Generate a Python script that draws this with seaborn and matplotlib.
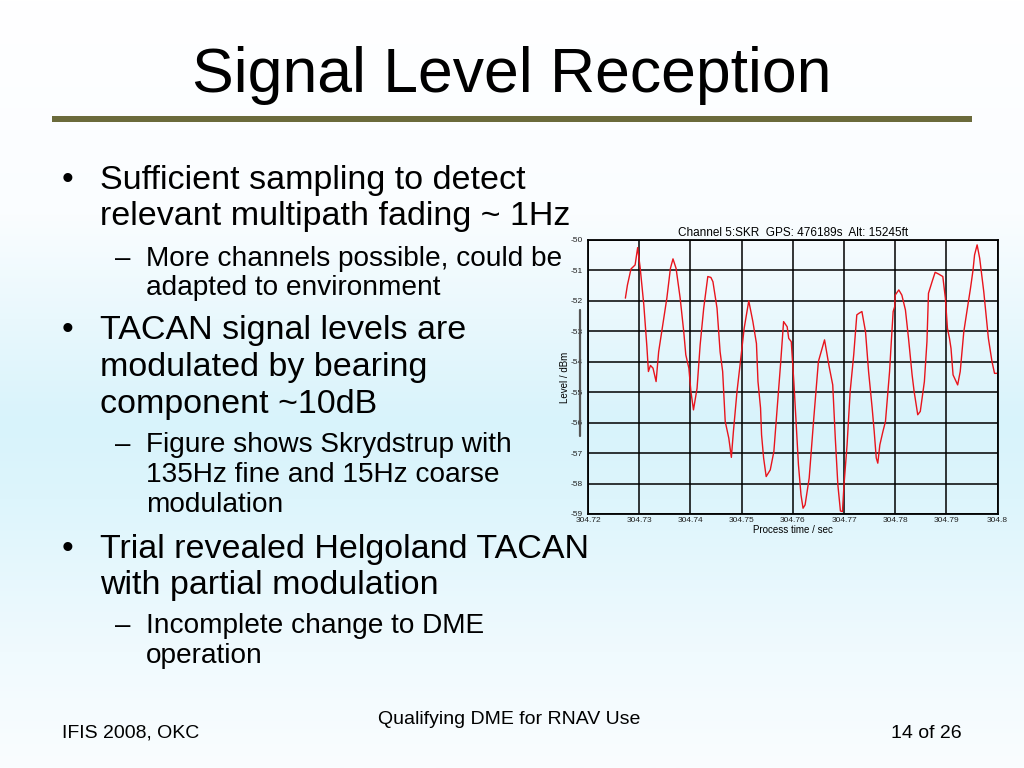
import numpy as np
import matplotlib
matplotlib.use("Agg")
import matplotlib.pyplot as plt
from matplotlib.lines import Line2D
from matplotlib.patches import Rectangle
import seaborn as sns

sns.set_style("white")
plt.rcParams['font.family'] = ['Liberation Sans', 'DejaVu Sans']
plt.rcParams['text.color'] = 'black'
plt.rcParams['axes.labelcolor'] = 'black'
plt.rcParams['axes.unicode_minus'] = False

### Trace of the received level
time_s = [304.7273, 304.7277, 304.7284, 304.7292, 304.7297, 304.7302, 304.7309, 304.7315,
          304.7318, 304.7322, 304.7327, 304.7333, 304.7338, 304.7345, 304.7354, 304.7361,
          304.7366, 304.7372, 304.7380, 304.7387, 304.7391, 304.7397, 304.7401, 304.7406,
          304.7413, 304.7419, 304.7426, 304.7434, 304.7440, 304.7444, 304.7452, 304.7458,
          304.7463, 304.7468, 304.7475, 304.7480, 304.7484, 304.7491, 304.7497, 304.7505,
          304.7514, 304.7522, 304.7529, 304.7532, 304.7537, 304.7539, 304.7543, 304.7548,
          304.7556, 304.7563, 304.7569, 304.7576, 304.7582, 304.7589, 304.7592, 304.7597,
          304.7602, 304.7606, 304.7611, 304.7616, 304.7620, 304.7624, 304.7632, 304.7641,
          304.7650, 304.7662, 304.7671, 304.7678, 304.7683, 304.7688, 304.7693, 304.7697,
          304.7700, 304.7706, 304.7712, 304.7719, 304.7725, 304.7729, 304.7735, 304.7742,
          304.7748, 304.7755, 304.7759, 304.7763, 304.7766, 304.7770, 304.7776, 304.7781,
          304.7789, 304.7792, 304.7796, 304.7799, 304.7800, 304.7807, 304.7813, 304.7820,
          304.7826, 304.7833, 304.7837, 304.7844, 304.7849, 304.7857, 304.7862, 304.7865,
          304.7872, 304.7878, 304.7885, 304.7893, 304.7898, 304.7902, 304.7906, 304.7909,
          304.7913, 304.7922, 304.7927, 304.7934, 304.7940, 304.7947, 304.7952, 304.7955,
          304.7960, 304.7965, 304.7973, 304.7982, 304.7989, 304.7994, 304.7999]
level_dbm = [-51.91, -51.48, -50.95, -50.82, -50.25, -50.93, -52.13, -53.50,
             -54.32, -54.12, -54.21, -54.65, -53.67, -52.90, -51.91, -50.93,
             -50.62, -50.93, -51.91, -53.01, -53.77, -54.21, -54.98, -55.58,
             -54.87, -53.45, -52.24, -51.20, -51.23, -51.37, -52.24, -53.67,
             -54.32, -55.96, -56.51, -57.14, -56.29, -54.98, -54.10, -52.90,
             -52.00, -52.68, -53.40, -54.65, -55.52, -56.40, -57.16, -57.77,
             -57.55, -56.95, -55.63, -54.10, -52.68, -52.85, -53.23, -53.34,
             -54.65, -55.85, -57.38, -58.37, -58.81, -58.70, -57.82, -55.85,
             -53.99, -53.28, -54.16, -54.76, -56.51, -58.04, -58.90, -58.92,
             -58.04, -56.73, -54.98, -53.77, -52.46, -52.41, -52.35, -53.01,
             -54.32, -55.52, -56.29, -57.16, -57.33, -56.73, -56.29, -55.96,
             -54.32, -53.45, -52.35, -52.19, -51.81, -51.64, -51.81, -52.30,
             -53.23, -54.43, -54.98, -55.74, -55.63, -54.65, -53.34, -51.75,
             -51.37, -51.06, -51.12, -51.20, -51.91, -52.90, -53.23, -53.56,
             -54.43, -54.76, -54.32, -53.01, -52.35, -51.59, -50.99, -50.49,
             -50.16, -50.60, -51.70, -53.23, -53.99, -54.38, -54.38]

x_ticks = [304.72, 304.73, 304.74, 304.75, 304.76, 304.77, 304.78, 304.79, 304.8]
x_tick_labels = ['304.72', '304.73', '304.74', '304.75', '304.76', '304.77', '304.78', '304.79', '304.8']
y_ticks = [-59, -58, -57, -56, -55, -54, -53, -52, -51, -50]

slide_title = "Signal Level Reception"
chart_title = "Channel 5:SKR  GPS: 476189s  Alt: 15245ft"

# (kind, text, baseline pixel)
bullets = [
    ('b', "Sufficient sampling to detect", 189),
    ('c', "relevant multipath fading ~ 1Hz", 225),
    ('s', "More channels possible, could be", 266),
    ('t', "adapted to environment", 295),
    ('b', "TACAN signal levels are", 339),
    ('c', "modulated by bearing", 376),
    ('c', "component ~10dB", 413),
    ('s', "Figure shows Skrydstrup with", 452),
    ('t', "135Hz fine and 15Hz coarse", 482),
    ('t', "modulation", 512),
    ('b', "Trial revealed Helgoland TACAN", 558),
    ('c', "with partial modulation", 594),
    ('s', "Incomplete change to DME", 633),
    ('t', "operation", 663),
]

W, H = 1024, 768
fig = plt.figure(figsize=(W / 100, H / 100), dpi=100)


def fy(py):
    return 1 - py / H


### slide background: white top, pale cyan band, fading again towards the bottom
bg = fig.add_axes([0, 0, 1, 1], zorder=-10)
rows = np.linspace(0, 1, 400)
stops_y = [0.0, 0.28, 0.55, 0.65, 0.85, 1.0]
stops_c = np.array([[255, 255, 255], [250, 253, 255], [216, 243, 251],
                    [221, 245, 252], [240, 250, 254], [250, 253, 255]]) / 255
grad = np.stack([np.interp(rows, stops_y, stops_c[:, k]) for k in range(3)], axis=-1)
bg.imshow(grad[:, None, :], aspect='auto', extent=[0, 1, 0, 1], origin='upper')
bg.set_xlim(0, 1)
bg.set_ylim(0, 1)
bg.axis('off')

fig.text(512 / W, fy(92), slide_title, fontsize=45, ha='center', va='baseline')
fig.add_artist(Rectangle((52 / W, fy(122)), 920 / W, 6 / H, transform=fig.transFigure,
                         color='#6b6a3b', lw=0))

for kind, txt, base in bullets:
    if kind in ('b', 'c'):
        if kind == 'b':
            fig.text(62 / W, fy(base), '•', fontsize=24, va='baseline')
        fig.text(100 / W, fy(base), txt, fontsize=24.5, va='baseline')
    else:
        if kind == 's':
            fig.text(115 / W, fy(base), '–', fontsize=20, va='baseline')
        fig.text(146 / W, fy(base), txt, fontsize=20.2, va='baseline')

fig.text(62 / W, fy(738), "IFIS 2008, OKC", fontsize=14, va='baseline')
fig.text(509 / W, fy(724), "Qualifying DME for RNAV Use", fontsize=14, ha='center', va='baseline')
fig.text(962 / W, fy(738), "14 of 26", fontsize=14, ha='right', va='baseline')

### the chart itself
ax = fig.add_axes([588 / W, fy(514), 409.6 / W, 274 / H])
ax.patch.set_alpha(0)
sns.lineplot(x=time_s, y=level_dbm, ax=ax, color='#e8141c', linewidth=1.0,
             estimator=None, sort=False)
ax.set_xlim(304.72, 304.8)
ax.set_ylim(-59, -50)
ax.set_xticks(x_ticks)
ax.set_xticklabels(x_tick_labels)
ax.set_yticks(y_ticks)
ax.grid(True, color='black', linewidth=1.1)
for sp in ax.spines.values():
    sp.set_color('black')
    sp.set_linewidth(1.3)
    sp.set_visible(True)
ax.tick_params(axis='both', labelsize=6, colors='#222222', length=2, width=0.6, pad=1.5)
ax.tick_params(axis='x', length=0, pad=2)
ax.set_xlabel("Process time / sec", fontsize=7, labelpad=1)
ax.set_ylabel("Level / dBm", fontsize=7, labelpad=1)
ax.set_title(chart_title, fontsize=8.5, pad=3)

# dark vertical stroke beside the y tick labels in the original
fig.add_artist(Line2D([580 / W, 580 / W], [fy(310), fy(436)], transform=fig.transFigure,
                      color='#555555', lw=1.6))

fig.savefig("out.png", dpi=100)
